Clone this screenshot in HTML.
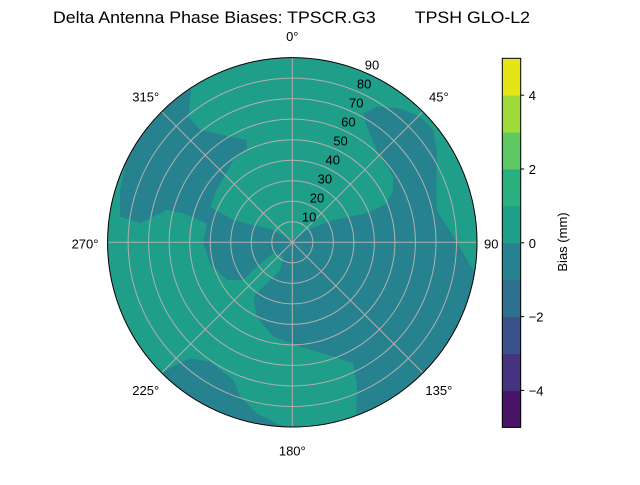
<!DOCTYPE html>
<html><head><meta charset="utf-8"><style>
body{margin:0;background:#fff}
svg text{font-family:"Liberation Sans","DejaVu Sans",sans-serif;font-size:13px;fill:#000}
</style></head><body>
<svg id="chart" width="640" height="480" viewBox="0 0 640 480" xmlns="http://www.w3.org/2000/svg">
<rect width="640" height="480" fill="#fff"/>
<text x="53" y="23" textLength="477" lengthAdjust="spacingAndGlyphs" style="font-size:16.5px;white-space:pre">Delta Antenna Phase Biases: TPSCR.G3        TPSH GLO-L2</text>
<defs><clipPath id="pc"><circle cx="292.3" cy="242.3" r="184.7"/></clipPath></defs>
<g>
<circle cx="292.3" cy="242.3" r="184.7" fill="#1f9e89"/>
<g clip-path="url(#pc)">
<g transform="translate(100,50) scale(0.3333333)">
<polygon fill="#26828e" points="150,150 260,60 275,100 265,200 300,240 440,270 440,300 400,330 350,420 330,470 400,510 520,540 577,570 620,540 700,510 800,490 860,460 880,420 880,380 830,300 800,230 790,190 830,170 900,175 960,200 1000,240 1010,300 1010,480 1060,560 1120,660 1200,700 1200,1200 760,1200 770,1080 770,1000 760,940 700,920 600,890 520,860 470,800 460,740 500,700 540,660 550,620 520,610 470,650 430,690 380,690 330,640 310,580 320,520 250,490 200,480 120,520 60,500 60,420 80,330 120,250"/>
<polygon fill="#26828e" points="190,965 270,925 330,935 400,990 420,1040 470,1090 560,1135 560,1250 100,1150"/>
</g>
</g>
<g id="grid" stroke="#b0b0b0" stroke-width="1" fill="none"></g>
<circle cx="292.3" cy="242.3" r="184.7" fill="none" stroke="#000" stroke-width="1"/>
<g id="labels"></g>
</g>
<g id="cbar"></g>
<text transform="translate(567,242) rotate(-90)" text-anchor="middle">Bias (mm)</text>
</svg>
<script>
const levels=[-5,-4,-3,-2,-1,0,1,2,3,4,5];
const levelColors=["#481467","#46337f","#3b518b","#2e6e8e","#26828e","#1f9e89","#2ab07f","#5ec962","#a0da39","#e5e419"];
const cbTicks=[-4,-2,0,2,4];
const rTicks=[10,20,30,40,50,60,70,80,90];
const thetaTicks=[0,45,90,135,180,225,270,315];
const NS="http://www.w3.org/2000/svg";
const cx=292.3,cy=242.3,R=184.7,rMax=90;
function rs(v){return v/rMax*R;}
function pt(deg,v){const a=deg*Math.PI/180;return [cx+rs(v)*Math.sin(a),cy-rs(v)*Math.cos(a)];}
function mk(t,attrs,parent){const e=document.createElementNS(NS,t);for(const k in attrs)e.setAttribute(k,attrs[k]);parent.appendChild(e);return e;}
const grid=document.getElementById('grid'),labels=document.getElementById('labels');
rTicks.forEach(v=>{const c=mk('circle',{cx:cx,cy:cy,r:rs(v)},grid);


const p=pt(22.5,v);const t=mk('text',{x:p[0]+9,y:p[1]-2,'text-anchor':'middle'},labels);t.textContent=v;

});
thetaTicks.forEach(d=>{const p=pt(d,rMax);const l=mk('line',{x1:cx,y1:cy,x2:p[0],y2:p[1]},grid);


const q=pt(d,rMax+11);const t=mk('text',{x:q[0],y:q[1]+6,'text-anchor':'middle'},labels);t.textContent=d+'°';
if(d===90){t.textContent='90';t.setAttribute('x',484);t.setAttribute('text-anchor','start');}

});
const cb=document.getElementById('cbar');const x0=502.3,w=18.4,yTop=58.3,yBot=427.3;
function cy2(v){return yBot-(v-levels[0])/(levels[levels.length-1]-levels[0])*(yBot-yTop);}
for(let i=0;i<levelColors.length;i++){const r=mk('rect',{x:x0,y:cy2(levels[i+1]),width:w,height:cy2(levels[i])-cy2(levels[i+1])+0.5,fill:levelColors[i]},cb);

}
mk('rect',{x:x0,y:yTop,width:w,height:yBot-yTop,fill:'none',stroke:'#000','stroke-width':1},cb);
cbTicks.forEach(v=>{const y=cy2(v);mk('line',{x1:x0+w,y1:y,x2:x0+w+3.5,y2:y,stroke:'#000'},cb);
const t=mk('text',{x:x0+w+8,y:y+5},cb);t.textContent=v<0?'\u2212'+(-v):v;

});
</script>
</body></html>
